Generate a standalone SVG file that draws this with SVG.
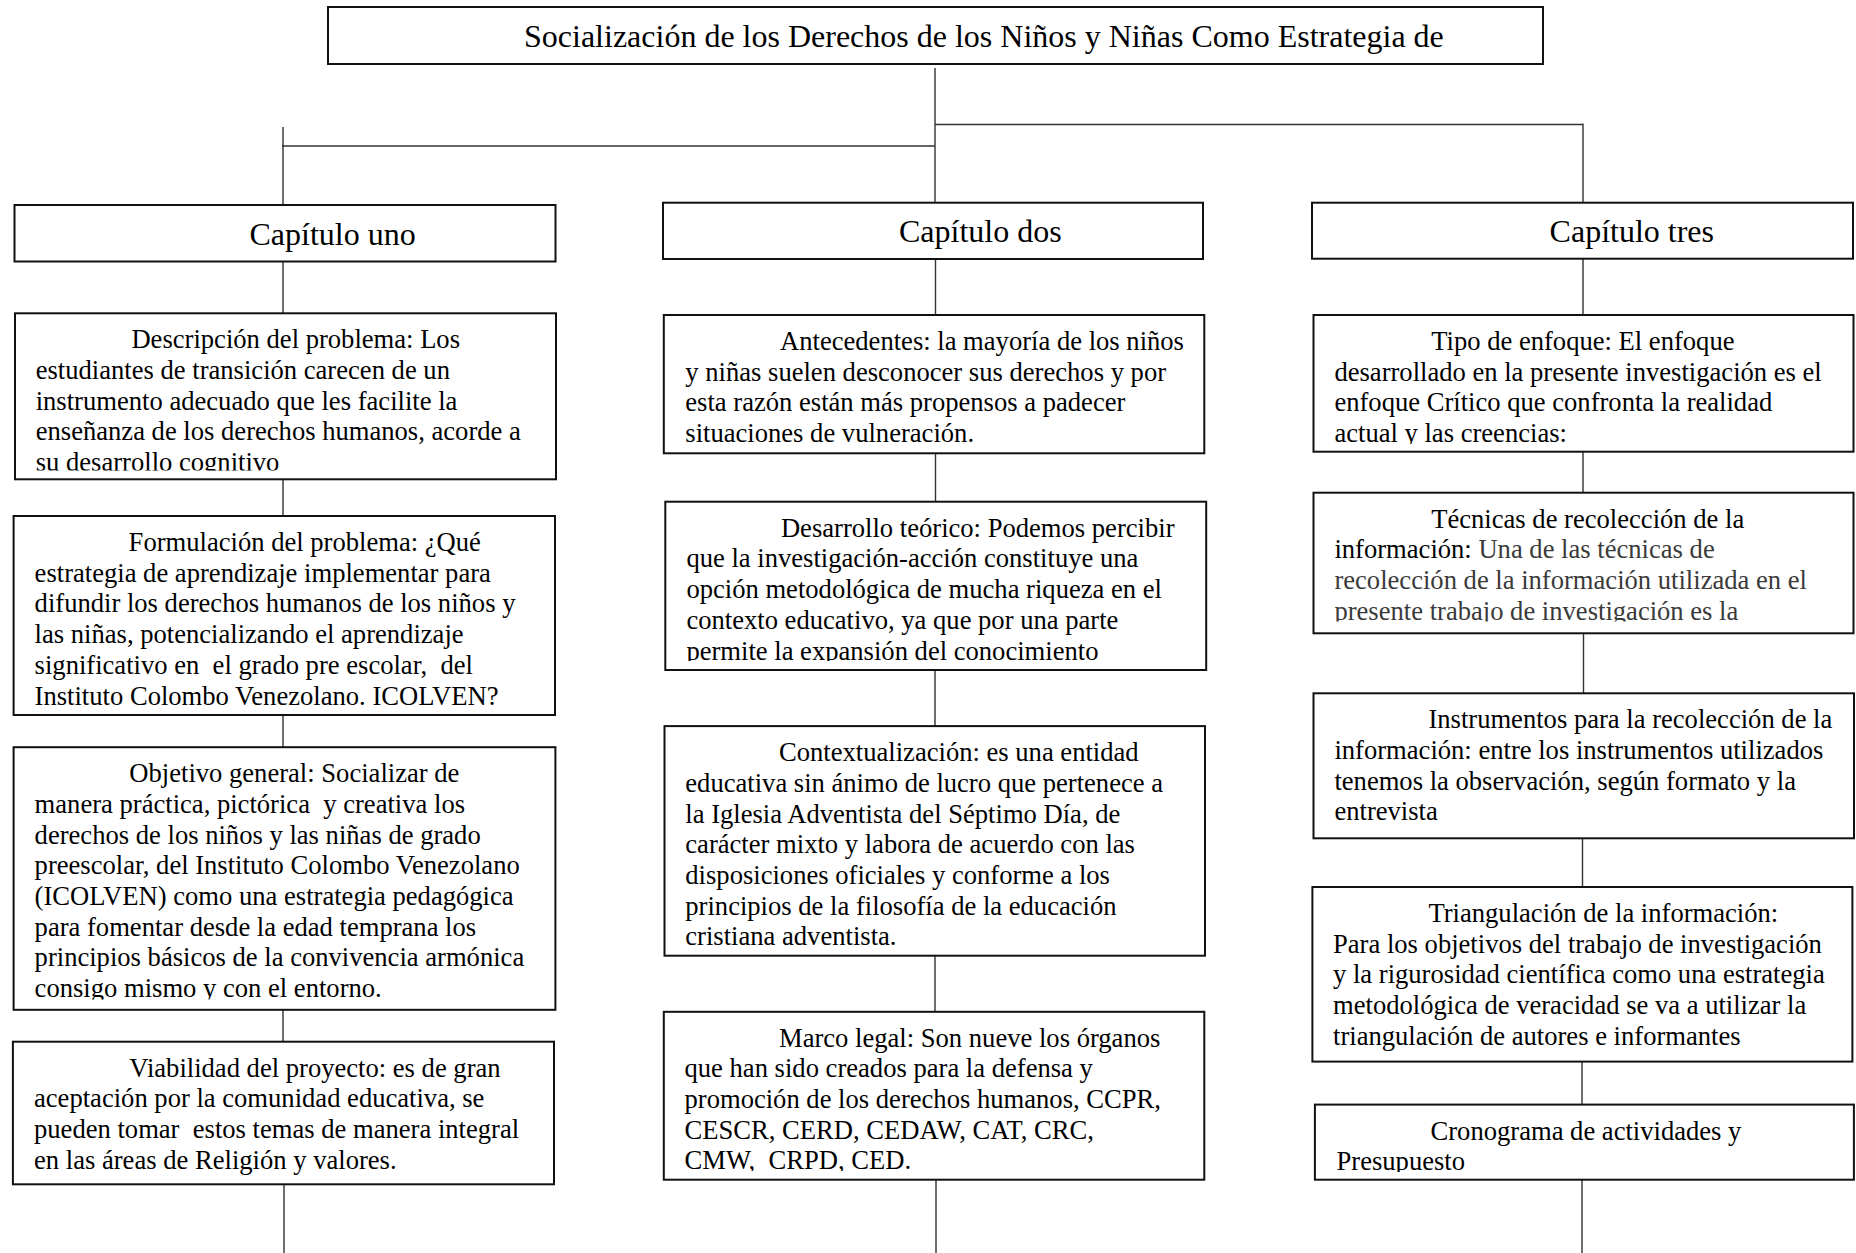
<svg xmlns="http://www.w3.org/2000/svg" width="1856" height="1253" viewBox="0 0 1856 1253">
<style>
.box{fill:#fff;stroke:#111;stroke-width:2}
.con{fill:none;stroke:#333;stroke-width:1.4}
.t{font-family:"Liberation Serif","Times New Roman",serif;font-size:26.6px;fill:#000}
.h{font-family:"Liberation Serif","Times New Roman",serif;font-size:32px;fill:#000}
.g{fill:#3a3a3a}
</style>
<defs>
<clipPath id="c-desc"><rect x="0" y="300" width="600" height="170.5"/></clipPath>
<clipPath id="c-obj"><rect x="0" y="740" width="600" height="259.5"/></clipPath>
<clipPath id="c-desa"><rect x="650" y="495" width="600" height="166"/></clipPath>
<clipPath id="c-marco"><rect x="650" y="1005" width="600" height="166"/></clipPath>
<clipPath id="c-tipo"><rect x="1300" y="310" width="556" height="134"/></clipPath>
<clipPath id="c-tecn"><rect x="1300" y="490" width="556" height="131.5"/></clipPath>
<clipPath id="c-cron"><rect x="1300" y="1100" width="556" height="72"/></clipPath>
</defs>
<rect width="1856" height="1253" fill="#fff"/>
<g id="connectors">
<path class="con" d="M935 68V202.7M282 146H935M283 127V205M935 124.5H1583M1583 123.5V202.7"/>
<path class="con" d="M283 261.7V313.3M283 479.3V516M283 715V747.2M283 1009.8V1041.7M284 1184.3V1253"/>
<path class="con" d="M935.5 259V315M935.5 453.3V501.7M935 670V726.1M935 955.7V1011.8M936 1179.7V1253"/>
<path class="con" d="M1583 258.7V315M1583 451.7V492.7M1583.5 633.3V693.3M1582.5 838.3V887M1582 1061.6V1104.6M1582 1179.7V1253"/>
</g>
<g id="title">
<rect class="box" x="328" y="7" width="1215" height="57"/>
<text class="h" x="524" y="46.7">Socialización de los Derechos de los Niños y Niñas Como Estrategia de</text>
</g>
<g id="cap1">
<rect class="box" x="14.5" y="205" width="541" height="56.5"/>
<text class="h" x="249.5" y="245">Capítulo uno</text>
</g>
<g id="cap2">
<rect class="box" x="663" y="202.7" width="540" height="56.3"/>
<text class="h" x="899" y="241.7">Capítulo dos</text>
</g>
<g id="cap3">
<rect class="box" x="1312" y="202.7" width="541" height="56"/>
<text class="h" x="1549.6" y="241.7">Capítulo tres</text>
</g>
<g id="descripcion">
<rect class="box" x="15" y="313.3" width="541" height="166"/>
<text class="t" clip-path="url(#c-desc)" xml:space="preserve"><tspan x="131.4" y="348.3">Descripción del problema: Los</tspan><tspan x="35.7" y="379">estudiantes de transición carecen de un</tspan><tspan x="35.7" y="409.7">instrumento adecuado que les facilite la</tspan><tspan x="35.7" y="440.4">enseñanza de los derechos humanos, acorde a</tspan><tspan x="35.7" y="471.1">su desarrollo cognitivo</tspan></text>
</g>
<g id="formulacion">
<rect class="box" x="13.6" y="516" width="541.4" height="199"/>
<text class="t" xml:space="preserve"><tspan x="128.6" y="551">Formulación del problema: ¿Qué</tspan><tspan x="34.6" y="581.7">estrategia de aprendizaje implementar para</tspan><tspan x="34.6" y="612.4">difundir los derechos humanos de los niños y</tspan><tspan x="34.6" y="643.1">las niñas, potencializando el aprendizaje</tspan><tspan x="34.6" y="673.8">significativo en  el grado pre escolar,  del</tspan><tspan x="34.6" y="704.5">Instituto Colombo Venezolano. ICOLVEN?</tspan></text>
</g>
<g id="objetivo">
<rect class="box" x="13.6" y="747.2" width="541.8" height="262.6"/>
<text class="t" clip-path="url(#c-obj)" xml:space="preserve"><tspan x="129.3" y="782.2">Objetivo general: Socializar de</tspan><tspan x="34.6" y="812.9">manera práctica, pictórica  y creativa los</tspan><tspan x="34.6" y="843.6">derechos de los niños y las niñas de grado</tspan><tspan x="34.6" y="874.3">preescolar, del Instituto Colombo Venezolano</tspan><tspan x="34.6" y="905">(ICOLVEN) como una estrategia pedagógica</tspan><tspan x="34.6" y="935.7">para fomentar desde la edad temprana los</tspan><tspan x="34.6" y="966.4">principios básicos de la convivencia armónica</tspan><tspan x="34.6" y="997.1">consigo mismo y con el entorno.</tspan></text>
</g>
<g id="viabilidad">
<rect class="box" x="12.9" y="1041.7" width="541.1" height="142.6"/>
<text class="t" xml:space="preserve"><tspan x="129.3" y="1076.7">Viabilidad del proyecto: es de gran</tspan><tspan x="34" y="1107.4">aceptación por la comunidad educativa, se</tspan><tspan x="34" y="1138.1">pueden tomar  estos temas de manera integral</tspan><tspan x="34" y="1168.8">en las áreas de Religión y valores.</tspan></text>
</g>
<g id="antecedentes">
<rect class="box" x="663.8" y="315" width="540.5" height="138.3"/>
<text class="t" xml:space="preserve"><tspan x="780" y="350">Antecedentes: la mayoría de los niños</tspan><tspan x="685.3" y="380.7">y niñas suelen desconocer sus derechos y por</tspan><tspan x="685.3" y="411.4">esta razón están más propensos a padecer</tspan><tspan x="685.3" y="442.1">situaciones de vulneración.</tspan></text>
</g>
<g id="desarrollo">
<rect class="box" x="665.3" y="501.7" width="540.9" height="168.3"/>
<text class="t" clip-path="url(#c-desa)" xml:space="preserve"><tspan x="780.9" y="536.7">Desarrollo teórico: Podemos percibir</tspan><tspan x="686.4" y="567.4">que la investigación-acción constituye una</tspan><tspan x="686.4" y="598.1">opción metodológica de mucha riqueza en el</tspan><tspan x="686.4" y="628.8">contexto educativo, ya que por una parte</tspan><tspan x="686.4" y="659.5">permite la expansión del conocimiento</tspan></text>
</g>
<g id="contextualizacion">
<rect class="box" x="664.5" y="726.1" width="540.5" height="229.6"/>
<text class="t" xml:space="preserve"><tspan x="779" y="761.1">Contextualización: es una entidad</tspan><tspan x="685.3" y="791.8">educativa sin ánimo de lucro que pertenece a</tspan><tspan x="685.3" y="822.5">la Iglesia Adventista del Séptimo Día, de</tspan><tspan x="685.3" y="853.2">carácter mixto y labora de acuerdo con las</tspan><tspan x="685.3" y="883.9">disposiciones oficiales y conforme a los</tspan><tspan x="685.3" y="914.6">principios de la filosofía de la educación</tspan><tspan x="685.3" y="945.3">cristiana adventista.</tspan></text>
</g>
<g id="marco">
<rect class="box" x="663.8" y="1011.8" width="540.5" height="167.9"/>
<text class="t" clip-path="url(#c-marco)" xml:space="preserve"><tspan x="779" y="1046.5">Marco legal: Son nueve los órganos</tspan><tspan x="684.5" y="1077.2">que han sido creados para la defensa y</tspan><tspan x="684.5" y="1107.9">promoción de los derechos humanos, CCPR,</tspan><tspan x="684.5" y="1138.6">CESCR, CERD, CEDAW, CAT, CRC,</tspan><tspan x="684.5" y="1169.3">CMW,  CRPD, CED.</tspan></text>
</g>
<g id="tipo">
<rect class="box" x="1313.5" y="315" width="540" height="136.7"/>
<text class="t" clip-path="url(#c-tipo)" xml:space="preserve"><tspan x="1431.2" y="350">Tipo de enfoque: El enfoque</tspan><tspan x="1334.4" y="380.7">desarrollado en la presente investigación es el</tspan><tspan x="1334.4" y="411.4">enfoque Crítico que confronta la realidad</tspan><tspan x="1334.4" y="442.1">actual y las creencias:</tspan></text>
</g>
<g id="tecnicas">
<rect class="box" x="1313.5" y="492.7" width="540" height="140.6"/>
<text class="t" clip-path="url(#c-tecn)" xml:space="preserve"><tspan x="1431.2" y="527.7">Técnicas de recolección de la</tspan><tspan x="1334.4" y="558.4">información: <tspan class="g">Una de las técnicas de</tspan></tspan><tspan class="g" x="1334.4" y="589.1">recolección de la información utilizada en el</tspan><tspan class="g" x="1334.4" y="619.8">presente trabajo de investigación es la</tspan></text>
</g>
<g id="instrumentos">
<rect class="box" x="1313.5" y="693.3" width="540.5" height="145"/>
<text class="t" xml:space="preserve"><tspan x="1428.4" y="728.3">Instrumentos para la recolección de la</tspan><tspan x="1334.4" y="759">información: entre los instrumentos utilizados</tspan><tspan x="1334.4" y="789.7">tenemos la observación, según formato y la</tspan><tspan x="1334.4" y="820.4">entrevista</tspan></text>
</g>
<g id="triangulacion">
<rect class="box" x="1312.4" y="887" width="540" height="174.6"/>
<text class="t" xml:space="preserve"><tspan x="1428.4" y="922">Triangulación de la información:</tspan><tspan x="1333" y="952.7">Para los objetivos del trabajo de investigación</tspan><tspan x="1333" y="983.4">y la rigurosidad científica como una estrategia</tspan><tspan x="1333" y="1014.1">metodológica de veracidad se va a utilizar la</tspan><tspan x="1333" y="1044.8">triangulación de autores e informantes</tspan></text>
</g>
<g id="cronograma">
<rect class="box" x="1314.9" y="1104.6" width="539" height="75.1"/>
<text class="t" clip-path="url(#c-cron)" xml:space="preserve"><tspan x="1430.5" y="1139.6">Cronograma de actividades y</tspan><tspan x="1336.5" y="1170.3">Presupuesto</tspan></text>
</g>
</svg>
